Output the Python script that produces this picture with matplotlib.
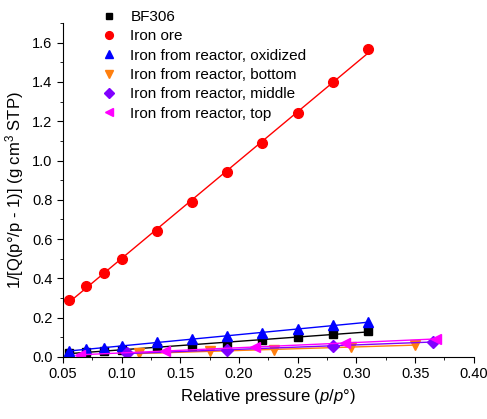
import numpy as np
import matplotlib.pyplot as plt
from matplotlib.ticker import MultipleLocator

plt.rcParams['font.family'] = ['Liberation Sans', 'DejaVu Sans']
plt.rcParams['mathtext.fontset'] = 'custom'
plt.rcParams['mathtext.rm'] = 'Liberation Sans'
plt.rcParams['mathtext.it'] = 'Liberation Sans:italic'

# BF306
x_bf = [0.055, 0.07, 0.085, 0.10, 0.13, 0.16, 0.19, 0.22, 0.25, 0.28, 0.31]
y_bf = [0.020, 0.027, 0.032, 0.037, 0.046, 0.057, 0.071, 0.087, 0.100, 0.117, 0.133]
# iron ore
x_ore = [0.055, 0.07, 0.085, 0.10, 0.13, 0.16, 0.19, 0.22, 0.25, 0.28, 0.31]
y_ore = [0.29, 0.36, 0.43, 0.50, 0.64, 0.79, 0.94, 1.09, 1.24, 1.40, 1.57]
# iron from reactor, oxidized
x_ox = [0.055, 0.07, 0.085, 0.10, 0.13, 0.16, 0.19, 0.22, 0.25, 0.28, 0.31]
y_ox = [0.030, 0.040, 0.048, 0.057, 0.074, 0.090, 0.107, 0.124, 0.142, 0.161, 0.178]
# bottom
x_bot = [0.115, 0.175, 0.23, 0.295, 0.35]
y_bot = [0.020, 0.028, 0.036, 0.049, 0.063]
# middle
x_mid = [0.105, 0.19, 0.28, 0.365]
y_mid = [0.020, 0.034, 0.056, 0.078]
# top
x_top = [0.065, 0.137, 0.214, 0.29, 0.368]
y_top = [0.012, 0.030, 0.050, 0.072, 0.092]

series = [
    (x_bf, y_bf, 'black', 's', 'BF306'),
    (x_ore, y_ore, 'red', 'o', 'Iron ore'),
    (x_ox, y_ox, 'blue', '^', 'Iron from reactor, oxidized'),
    (x_bot, y_bot, '#ff7f0e', 'v', 'Iron from reactor, bottom'),
    (x_mid, y_mid, '#8000ff', 'D', 'Iron from reactor, middle'),
    (x_top, y_top, '#ff00ff', '<', 'Iron from reactor, top'),
]

fig = plt.figure(figsize=(4.87, 4.19), dpi=100)
ax = fig.add_axes([0.129, 0.148, 0.844, 0.797])

for x, y, c, m, lab in series:
    x = np.array(x)
    y = np.array(y)
    ms = 6.5 if m == 'D' else 7
    if m == 's':
        ms = 6
    ax.plot(x, y, linestyle='none', marker=m, color=c, ms=ms, label=lab)
    k, b = np.polyfit(x, y, 1)
    xx = np.array([x.min(), x.max()])
    ax.plot(xx, k * xx + b, color=c, lw=1)

ax.set_xlim(0.05, 0.40)
ax.set_ylim(0, 1.7)
ax.xaxis.set_major_locator(MultipleLocator(0.05))
ax.xaxis.set_minor_locator(MultipleLocator(0.025))
ax.yaxis.set_major_locator(MultipleLocator(0.2))
ax.yaxis.set_minor_locator(MultipleLocator(0.1))
ax.set_xticklabels([f'{v:.2f}' for v in ax.get_xticks()])
ax.set_yticklabels([f'{v:.1f}' for v in ax.get_yticks()])
ax.spines['top'].set_visible(False)
ax.spines['right'].set_visible(False)
ax.tick_params(which='major', length=4, labelsize=10.5)
ax.tick_params(which='minor', length=2)

ax.set_xlabel('Relative pressure ($\\it{p}$/$\\it{p}$°)', fontsize=12)
ax.set_ylabel('1/[Q(p°/p - 1)] (g cm$^3$ STP)', fontsize=12)

ax.legend(loc='upper left', bbox_to_anchor=(0.06, 1.08), frameon=False,
          fontsize=11, handletextpad=0.9, labelspacing=0.35, handlelength=1.0,
          markerscale=0.8)

fig.savefig('out.png', dpi=100)
